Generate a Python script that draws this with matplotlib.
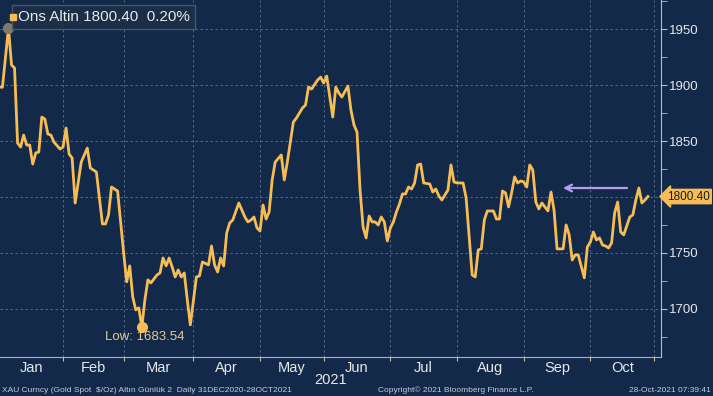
import matplotlib
matplotlib.use("Agg")
import matplotlib.pyplot as plt
import matplotlib.transforms as mtransforms
import numpy as np

# business-day number counted from 31 Dec 2020 (0) and gold spot price
bday = [1, 2, 4, 5, 6, 7, 8, 9, 10, 11, 12, 13, 14, 15, 16, 17, 18, 19, 21, 22,
        23, 24, 25, 26, 28, 30, 31, 33, 35, 36, 37, 38, 40, 42, 43, 44, 45, 46, 47, 48,
        49, 50, 51, 53, 54, 55, 56, 57, 58, 59, 60, 61, 62, 63, 64, 66, 67, 68, 70, 71,
        72, 73, 74, 75, 76, 77, 78, 80, 82, 83, 84, 85, 86, 87, 88, 89, 90, 91, 92, 94,
        95, 96, 98, 99, 101, 102, 103, 104, 106, 107, 108, 109, 111, 112, 113, 114, 116, 117, 118, 119,
        120, 121, 122, 123, 124, 125, 126, 127, 128, 129, 130, 131, 132, 133, 134, 135, 136, 137, 138, 139,
        140, 141, 143, 144, 145, 146, 147, 149, 150, 151, 152, 154, 155, 156, 157, 158, 159, 160, 161, 162,
        164, 165, 166, 167, 168, 169, 170, 171, 172, 173, 174, 175, 176, 177, 178, 179, 180, 182, 183, 184,
        185, 187, 188, 189, 190, 191, 192, 194, 195, 196, 197, 198, 199, 200, 201, 202, 203, 204, 205, 206,
        207, 208, 209, 210, 211, 212, 213, 214, 215]
price = [1898.2, 1898.0, 1951.0, 1917.9, 1915.2, 1848.2, 1844.6, 1855.3, 1846.4, 1846.4,
         1829.4, 1839.3, 1840.2, 1871.4, 1869.6, 1856.2, 1855.3, 1849.1, 1842.8, 1844.6,
         1861.6, 1838.4, 1834.8, 1794.6, 1831.2, 1843.7, 1825.9, 1822.3, 1775.9, 1775.9,
         1783.9, 1808.9, 1805.3, 1750.0, 1724.1, 1738.4, 1710.7, 1699.1, 1700.9, 1683.54,
         1708.0, 1725.9, 1723.2, 1730.3, 1732.1, 1745.5, 1738.4, 1745.5, 1737.5, 1728.5,
         1734.8, 1728.5, 1732.1, 1708.0, 1685.7, 1728.5, 1729.4, 1741.9, 1739.3, 1756.2,
         1739.3, 1733.0, 1745.5, 1738.4, 1767.8, 1776.8, 1779.4, 1794.6, 1782.1, 1777.7,
         1779.4, 1782.1, 1772.3, 1769.6, 1792.8, 1780.3, 1786.6, 1815.2, 1831.2, 1837.5,
         1815.2, 1831.2, 1867.0, 1870.5, 1879.5, 1882.1, 1898.2, 1896.4, 1904.5, 1907.1,
         1901.8, 1908.0, 1871.4, 1898.2, 1892.9, 1889.3, 1899.1, 1877.7, 1864.3, 1858.0,
         1806.2, 1773.2, 1763.4, 1783.0, 1777.7, 1777.7, 1775.0, 1782.1, 1777.7, 1760.7,
         1772.3, 1777.7, 1786.6, 1793.7, 1802.7, 1802.7, 1808.9, 1807.1, 1812.5, 1828.6,
         1829.4, 1812.5, 1811.6, 1804.4, 1807.1, 1800.9, 1797.3, 1806.2, 1828.6, 1813.4,
         1812.5, 1812.5, 1799.1, 1764.3, 1730.3, 1728.5, 1752.7, 1753.6, 1779.4, 1787.5,
         1787.5, 1780.3, 1780.3, 1805.3, 1803.6, 1791.1, 1803.6, 1817.9, 1812.5, 1814.3,
         1813.4, 1808.9, 1828.6, 1824.1, 1795.5, 1789.3, 1794.6, 1787.5, 1804.4, 1788.4,
         1753.6, 1753.6, 1775.0, 1766.1, 1743.7, 1748.2, 1748.2, 1727.7, 1755.3, 1759.8,
         1768.7, 1761.6, 1763.4, 1757.1, 1756.2, 1754.4, 1758.9, 1785.7, 1795.5, 1768.7,
         1766.1, 1774.1, 1782.1, 1783.9, 1797.3, 1808.0, 1794.6, 1797.3, 1800.40]

months = ["Jan", "Feb", "Mar", "Apr", "May", "Jun", "Jul", "Aug", "Sep", "Oct"]
month_starts = ["2021-01-01", "2021-02-01", "2021-03-01", "2021-04-01", "2021-05-01",
                "2021-06-01", "2021-07-01", "2021-08-01", "2021-09-01", "2021-10-01",
                "2021-11-01"]
yticks = [1700, 1750, 1800, 1850, 1900, 1950]
last_price = 1800.40
low_price = 1683.54
arrow_level = 1808

bg = "#13294a"
gold = "#f7bd55"
grid_c = "#7f8ea6"
axis_c = "#cbbd93"
text_c = "#e8e8e8"
font = ["Liberation Sans Narrow", "Liberation Sans", "DejaVu Sans"]
plt.rcParams["font.family"] = font

fig = plt.figure(figsize=(7.13, 3.96), dpi=100, facecolor=bg)
ax = fig.add_axes([0, 39 / 396, 661 / 713, 357 / 396], facecolor=bg)

x = np.array(bday)
y = np.array(price)
ax.plot(x, y, color=gold, lw=2.0, zorder=3, solid_joinstyle="round")

# month boundaries
starts = np.busday_count("2020-12-31", month_starts)
mids = (starts[:-1] + starts[1:]) / 2
ax.set_xticks(starts)
ax.set_xticks(mids, minor=True)
ax.set_xticklabels([""] * len(starts))
ax.set_xticklabels(months, minor=True)
ax.tick_params(axis="x", which="major", length=3, color=axis_c, direction="out")
ax.tick_params(axis="x", which="minor", length=0, pad=3, labelsize=10.5, labelcolor=text_c)
ax.set_xlim(1.2, 219.3)

ax.set_ylim(1657, 1976)
ax.yaxis.tick_right()
ax.set_yticks(yticks)
# the 1800 label sits under the last-price tag
ax.set_yticklabels(["" if abs(t - last_price) < 10 else str(t) for t in yticks])
ax.set_yticks(np.arange(1675, 1976, 50), minor=True)
ax.tick_params(axis="y", which="both", direction="out", color=axis_c, length=4,
               labelsize=9.5, labelcolor=text_c, pad=2)

ax.grid(True, which="major", color=grid_c, lw=0.6, linestyle=(0, (3, 3)), alpha=0.7)
for s in ["top", "left"]:
    ax.spines[s].set_visible(False)
ax.spines["right"].set_color(axis_c)
ax.spines["bottom"].set_color("#aab4c2")

# high / low markers
i_hi = int(np.argmax(y))
i_lo = int(np.argmin(y))
ax.plot(x[i_hi], y[i_hi], "o", ms=7, color="#7d7a68", zorder=4)
ax.text(x[i_hi] + 3, y[i_hi] + 5, f"Hi: {y[i_hi]:.2f}", color="#6f7580", fontsize=9,
        va="center", zorder=2)
ax.plot(x[i_lo], y[i_lo], "o", ms=7, color=gold, zorder=4)
ax.text(x[i_lo] + 1, y[i_lo] - 9, f"Low: {low_price:.2f}", color="#e3cb8f", fontsize=9.5,
        ha="center", va="center", zorder=4)

# purple arrow
ax.annotate("", xy=(186, arrow_level), xytext=(209, arrow_level),
            arrowprops=dict(arrowstyle="->", color="#b89cf0", lw=1.6, mutation_scale=12),
            zorder=4)

# last price tag on the axis
trans = mtransforms.blended_transform_factory(fig.transFigure, ax.transData)
ax.text(0.996, last_price, f"{last_price:.2f}", transform=trans, color="#1a1a1a",
        fontsize=8.5, va="center", ha="right", zorder=6, clip_on=False,
        bbox=dict(boxstyle="larrow,pad=0.1", fc=gold, ec=gold))

# legend box
ax.text(0.027, 0.952, "Ons Altin 1800.40  0.20%", transform=ax.transAxes, color=text_c,
        fontsize=11, va="center", ha="left", zorder=7,
        bbox=dict(boxstyle="square,pad=0.35", fc="#1b2f48", ec="#4a5a70", alpha=0.93))
ax.plot([0.02], [0.952], "s", ms=5, color=gold, transform=ax.transAxes, zorder=8,
        clip_on=False)

fig.text(0.5 * 661 / 713, 0.04, "2021", color=text_c, fontsize=10.5, ha="center", va="center")
fig.text(0.003, 0.014, "XAU Curncy (Gold Spot  $/Oz) Altın Günlük 2  Daily 31DEC2020-28OCT2021",
         color="#c8ccd4", fontsize=6, ha="left", va="center")
fig.text(0.53, 0.014, "Copyright© 2021 Bloomberg Finance L.P.", color="#c8ccd4",
         fontsize=6, ha="left", va="center")
fig.text(0.997, 0.014, "28-Oct-2021 07:39:41", color="#c8ccd4", fontsize=6,
         ha="right", va="center")

fig.savefig("out.png", dpi=100, facecolor=bg)
